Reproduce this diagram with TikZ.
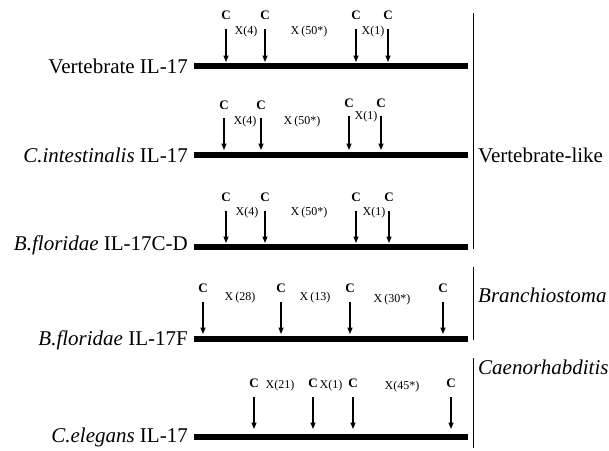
\documentclass[tikz,border=0pt]{standalone}
\usepackage{fontspec}
\setmainfont{Liberation Serif}
\usetikzlibrary{arrows.meta}
\tikzset{
  bar/.style={line width=6.5pt},
  grp/.style={line width=0.9pt},
  cys/.style={-{Triangle[length=6.5pt,width=5pt]}, line width=1.2pt},
  clab/.style={font=\fontsize{13}{14}\selectfont\bfseries, inner sep=0pt},
  xlab/.style={font=\fontsize{12}{13}\selectfont, inner sep=0pt},
  rowname/.style={font=\fontsize{21}{24}\selectfont, anchor=east, inner sep=0pt},
  glab/.style={font=\fontsize{21}{24}\selectfont, anchor=west, inner sep=0pt}
}
\begin{document}
\begin{tikzpicture}[x=1pt,y=-1pt]
\useasboundingbox (0,0) rectangle (609,450);
% bars
\foreach \r/\y in {1/66,2/155,3/247,4/339,5/437}{
  \coordinate (b\r l) at (194,\y);
  \coordinate (b\r r) at (468,\y);
  \draw[bar] (b\r l) -- (b\r r);
}
% row names
\node[rowname] (n1) at (188,66) {Vertebrate IL-17};
\node[rowname] (n2) at (188,155) {\textit{C.intestinalis} IL-17};
\node[rowname] (n3) at (188,245) {\textit{B.floridae} IL-17C-D};
\node[rowname] (n4) at (188,340) {\textit{B.floridae} IL-17F};
\node[rowname] (n5) at (188,437) {\textit{C.elegans} IL-17};
% arrows: row/index/x/top/tip/Cy
\foreach \r/\i/\x/\t/\p/\c in {
  1/1/226/29/62/15, 1/2/265/29/62/15, 1/3/356/29/62/15, 1/4/388/29/62/15,
  2/1/224/118/150/105, 2/2/261/118/150/105, 2/3/349/116/150/103, 2/4/381/116/150/103,
  3/1/226/211/243/197, 3/2/265/211/243/197, 3/3/356/211/243/197, 3/4/389/211/243/197,
  4/1/203/302/334/288, 4/2/281/302/334/288, 4/3/350/302/334/288, 4/4/443/302/334/288,
  5/1/254/397/429/383, 5/2/313/397/429/383, 5/3/353/397/429/383, 5/4/451/397/429/383}{
  \node[clab] (c\r\i) at (\x,\c) {C};
  \coordinate (s\r\i) at (\x,\t);
  \coordinate (e\r\i) at (\x,\p);
  \draw[cys] (s\r\i) -- (e\r\i);
}
% spacer labels
\node[xlab] (x11) at (246,32) {X(4)};
\node[xlab] (x12) at (309,32) {X\,(50*)};
\node[xlab] (x13) at (373,32) {X(1)};
\node[xlab] (x21) at (245,122) {X(4)};
\node[xlab] (x22) at (302,122) {X\,(50*)};
\node[xlab] (x23) at (366,117) {X(1)};
\node[xlab] (x31) at (247,213) {X(4)};
\node[xlab] (x32) at (309,213) {X\,(50*)};
\node[xlab] (x33) at (374,213) {X(1)};
\node[xlab] (x41) at (240,298) {X\,(28)};
\node[xlab] (x42) at (315,298) {X\,(13)};
\node[xlab] (x43) at (392,300) {X\,(30*)};
\node[xlab] (x51) at (280,386) {X(21)};
\node[xlab] (x52) at (331,386) {X(1)};
\node[xlab] (x53) at (402,387) {X(45*)};
% group brackets
\coordinate (g1t) at (473,13);  \coordinate (g1b) at (473,249);
\coordinate (g2t) at (473,267); \coordinate (g2b) at (473,340);
\coordinate (g3t) at (473,358); \coordinate (g3b) at (473,448);
\draw[grp] (g1t) -- (g1b);
\draw[grp] (g2t) -- (g2b);
\draw[grp] (g3t) -- (g3b);
\node[glab] (gl1) at (478,155) {Vertebrate-like};
\node[glab] (gl2) at (478,295) {\textit{Branchiostoma}};
\node[glab] (gl3) at (478,367) {\textit{Caenorhabditis}};
\end{tikzpicture}
\end{document}
